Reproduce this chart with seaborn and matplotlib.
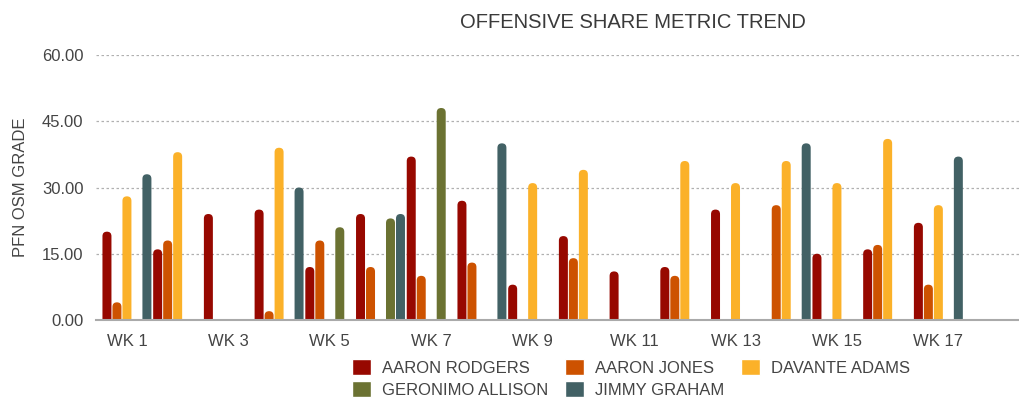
import numpy as np
import pandas as pd
import matplotlib
matplotlib.use("Agg")
import matplotlib.pyplot as plt
import seaborn as sns
from matplotlib.patches import FancyBboxPatch

weeks = [f"WK {i}" for i in range(1, 18)]
players = ["AARON RODGERS", "AARON JONES", "DAVANTE ADAMS",
           "GERONIMO ALLISON", "JIMMY GRAHAM"]
nan = np.nan
rodgers = [20, 16, 24, 25, 12, 24, 37, 27, 8, 19, 11, 12, 25, nan, 15, 16, 22]
jones   = [4, 18, nan, 2, 18, 12, 10, 13, nan, 14, nan, 10, nan, 26, nan, 17, 8]
adams   = [28, 38, nan, 39, nan, nan, nan, nan, 31, 34, nan, 36, 31, 36, 31, 41, 26]
allison = [nan, nan, nan, nan, 21, 23, 48, nan, nan, nan, nan, nan, nan, nan, nan, nan, nan]
graham  = [33, nan, nan, 30, nan, 24, nan, 40, nan, nan, nan, nan, nan, 40, nan, nan, 37]
colors = ["#970800", "#CD5200", "#FBB129", "#6B7232", "#426165"]
yticks = [0, 15, 30, 45, 60]

rows = []
for p, vals in zip(players, [rodgers, jones, adams, allison, graham]):
    for w, v in zip(weeks, vals):
        rows.append({"week": w, "player": p, "value": v})
df = pd.DataFrame(rows)

sns.set_style("white")
plt.rcParams["font.family"] = ["Liberation Sans", "DejaVu Sans"]
text_color = "#444444"

fig = plt.figure(figsize=(10.19, 4.08), dpi=100)
ax = fig.add_axes([96/1019, 1 - 320/408, 1 - 96/1019, (320 - 55)/408])

sns.barplot(data=df, x="week", y="value", hue="player", hue_order=players,
            palette=colors, order=weeks, width=0.985, gap=0.1, ax=ax,
            saturation=1, errorbar=None, legend=True)

ax.set_xlim(-0.61, 17.59)
ax.set_ylim(0, 60)
ax.set_yticks(yticks)
ax.set_yticklabels([f"{v:.2f}" for v in yticks])
ax.set_xticks(range(0, 17, 2))
ax.set_xticklabels([weeks[i] for i in range(0, 17, 2)])
ax.tick_params(axis="both", length=0, labelsize=12, colors=text_color)
ax.tick_params(axis="x", pad=10)
ax.tick_params(axis="y", pad=9)
ax.set_xlabel("")
ax.set_ylabel("PFN OSM GRADE", fontsize=12, color=text_color, labelpad=10)
ax.yaxis.grid(True, linestyle=(0, (2, 2)), color="#b0b0b0", linewidth=0.9)
ax.set_axisbelow(True)
for s in ["top", "right", "left"]:
    ax.spines[s].set_visible(False)
ax.spines["bottom"].set_color("#aaaaaa")
ax.spines["bottom"].set_linewidth(1.5)

# rounded tops
fig.canvas.draw()
bbox = ax.get_window_extent()
xr = ax.get_xlim(); yr = ax.get_ylim()
px_x = (xr[1] - xr[0]) / bbox.width
px_y = (yr[1] - yr[0]) / bbox.height
for p in list(ax.patches):
    h = p.get_height()
    if not np.isfinite(h) or h <= 0:
        continue
    x0 = p.get_x(); w = p.get_width()
    r = w / 2
    aspect = px_y / px_x
    ry = r * aspect
    fb = FancyBboxPatch((x0, -ry), w, h + ry,
                        boxstyle=f"round,pad=0,rounding_size={r}",
                        mutation_aspect=aspect,
                        facecolor=p.get_facecolor(), edgecolor="none",
                        zorder=p.get_zorder(), clip_on=True)
    ax.add_patch(fb)
    fb.set_clip_path(ax.patch)
    p.set_visible(False)

handles, labels = ax.get_legend_handles_labels()
if ax.legend_:
    ax.legend_.remove()
order = [0, 3, 1, 4, 2]
leg = fig.legend([handles[i] for i in order], [labels[i] for i in order],
                 ncol=3, loc="upper left",
                 bbox_to_anchor=(344/1019, 1 - 351/408), frameon=False,
                 fontsize=12, handlelength=1.1, handleheight=1.1,
                 handletextpad=0.7, columnspacing=1.0, labelspacing=0.3,
                 borderpad=0)
for t in leg.get_texts():
    t.set_color(text_color)

fig.text(633/1019, 1 - 22/408, "OFFENSIVE SHARE METRIC TREND", ha="center",
         va="center", fontsize=14.5, color="#3a3a3a")

fig.savefig("out.png", dpi=100)
